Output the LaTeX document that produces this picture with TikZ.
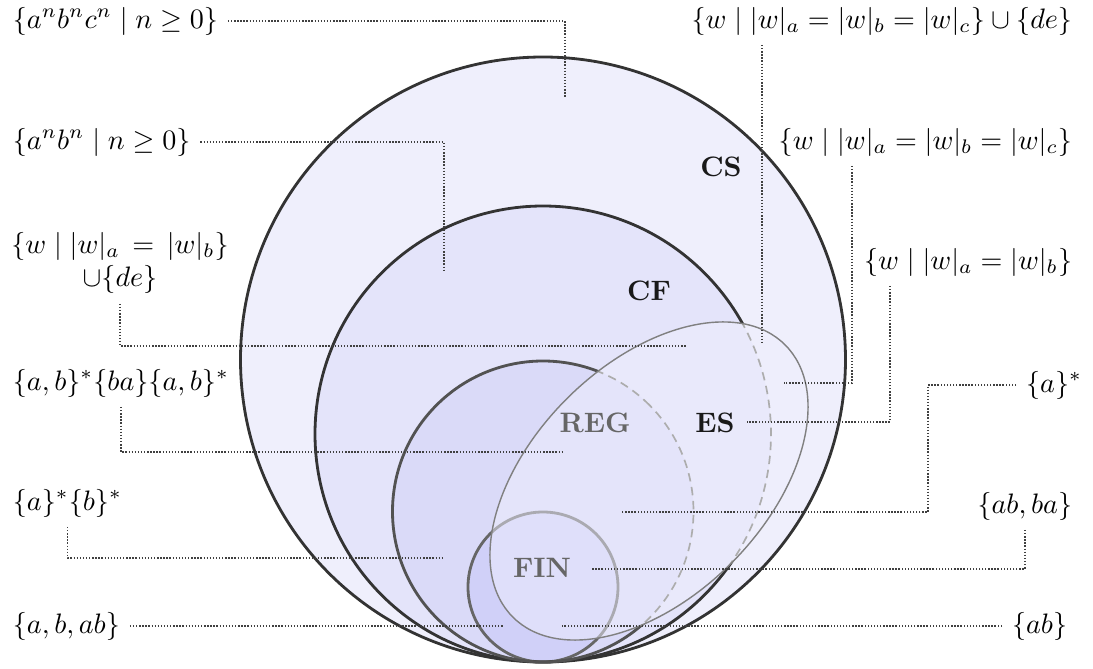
\documentclass[tikz,border=0pt]{standalone}
\usepackage{amsmath,amssymb}
\usepackage{tikz}

\definecolor{csfill}{HTML}{EFEFFC}
\definecolor{cffill}{HTML}{E4E4FA}
\definecolor{regfill}{HTML}{DADAF8}
\definecolor{finfill}{HTML}{D0D0F8}
\definecolor{esfill}{HTML}{EEEEFC}

\begin{document}
\begin{tikzpicture}[x=0.0125cm, y=0.0125cm,
  rim/.style={line width=1pt, draw=black!80},
  regrim/.style={line width=1pt, draw=black!68},
  dashrim/.style={line width=0.6pt, draw=black!32, dash pattern=on 3pt off 2pt},
  leader/.style={draw=black!75, line width=0.5pt, dash pattern=on 0.5pt off 0.6pt},
  cls/.style={font=\bfseries, text=black!90}]
  \useasboundingbox (0,0) rectangle (1093,668);
  \def\ea{192.5}\def\eb{116.3}
  % centres, all circles touch at the bottom
  \coordinate (cs) at (543,308.5);
  \coordinate (cf) at (543,234);
  \coordinate (reg) at (543,156.5);
  \coordinate (fin) at (543,81);
  \coordinate (es) at (649,187);
  % nested classes
  \fill[csfill] (cs) circle[radius=302.5];
  \fill[cffill] (cf) circle[radius=228];
  \fill[regfill] (reg) circle[radius=150.5];
  \fill[finfill] (fin) circle[radius=75];
  \draw[rim] (cs) circle[radius=302.5];
  \draw[line width=1pt, draw=black!60] (fin) circle[radius=75];
  % borders of CF and REG outside ES
  \begin{scope}[rotate around={45:(es)}, even odd rule]
    \clip (-400,-700) rectangle (1700,1100)
      (es) ellipse[x radius=\ea, y radius=\eb];
    \draw[rim] (cf) circle[radius=228];
    \draw[regrim] (reg) circle[radius=150.5];
  \end{scope}
  % ES on top
  \fill[esfill, fill opacity=0.5, rotate around={45:(es)}] (es) ellipse[x radius=\ea, y radius=\eb];
  \begin{scope}[rotate around={45:(es)}]
    \clip (es) ellipse[x radius=\ea, y radius=\eb];
    \draw[dashrim] (cf) circle[radius=228];
    \draw[dashrim] (reg) circle[radius=150.5];
  \end{scope}
  \draw[black!50, line width=0.5pt, rotate around={45:(es)}] (es) ellipse[x radius=\ea, y radius=\eb];

  % class names
  \node[cls] (cslbl) at (721,501) {CS};
  \node[cls] (cflbl) at (649,377) {CF};
  \node[cls, text=black!60] (reglbl) at (595,245) {REG};
  \node[cls] (eslbl) at (715,245) {ES};
  \node[cls, text=black!60] (finlbl) at (542,100) {FIN};

  % example languages, left
  \node[anchor=west] (l1) at (3,647) {$\{a^nb^nc^n \mid n\geq 0\}$};
  \node[anchor=west] (l2) at (3,526) {$\{a^nb^n \mid n\geq 0\}$};
  \node[align=center] (l3) at (120,405) {$\{w \mid |w|_a \,=\, |w|_b\}$\\$\cup\{de\}$};
  \node[anchor=west] (l4) at (3,285) {$\{a,b\}^*\{ba\}\{a,b\}^*$};
  \node[anchor=west] (l5) at (3,165) {$\{a\}^*\{b\}^*$};
  \node[anchor=west] (l6) at (3,42) {$\{a,b,ab\}$};
  % example languages, right
  \node[anchor=east] (l7) at (1082,647) {$\{w \mid |w|_a=|w|_b=|w|_c\}\cup\{de\}$};
  \node[anchor=east] (l8) at (1082,526) {$\{w \mid |w|_a=|w|_b=|w|_c\}$};
  \node[anchor=east] (l9) at (1082,406) {$\{w \mid |w|_a=|w|_b\}$};
  \node[anchor=east] (l10) at (1092,283) {$\{a\}^*$};
  \node[anchor=east] (l11) at (1082,162) {$\{ab,ba\}$};
  \node[anchor=east] (l12) at (1077,42) {$\{ab\}$};

  % where the leaders end
  \coordinate (p1) at (565,571);
  \coordinate (p2) at (444,398);
  \coordinate (p3) at (687,322);
  \coordinate (p4) at (563,216);
  \coordinate (p5) at (443,110);
  \coordinate (p6) at (504,42);
  \coordinate (p7) at (762,325);
  \coordinate (c8) at (852,285);
  \coordinate (p8) at (784,285);
  \coordinate (c9) at (890,246);
  \coordinate (p9) at (747,246);
  \coordinate (c10) at (928,156);
  \coordinate (p10) at (622,156);
  \coordinate (p11) at (592,99);
  \coordinate (p12) at (562,42);

  \draw[leader] (l1.east) -| (p1);
  \draw[leader] (l2.east) -| (p2);
  \draw[leader] (l3.south) |- (p3);
  \draw[leader] (l4.south) |- (p4);
  \draw[leader] (l5.south) |- (p5);
  \draw[leader] (l6.east) -- (p6);
  \draw[leader] (l7.south -| p7) -- (p7);
  \draw[leader] (l8.south -| c8) -- (c8) -- (p8);
  \draw[leader] (l9.south -| c9) -- (c9) -- (p9);
  \draw[leader] (l10.west) -| (c10) -- (p10);
  \draw[leader] (l11.south) |- (p11);
  \draw[leader] (l12.west) -- (p12);
\end{tikzpicture}
\end{document}
